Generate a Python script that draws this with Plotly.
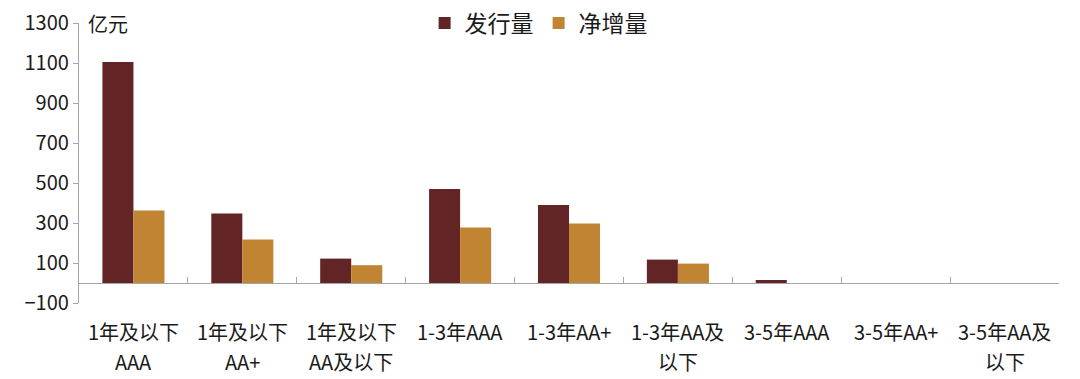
import plotly.graph_objects as go

label_line1 = ["1年及以下", "1年及以下", "1年及以下", "1-3年AAA", "1-3年AA+",
               "1-3年AA及", "3-5年AAA", "3-5年AA+", "3-5年AA及"]
label_line2 = ["AAA", "AA+", "AA及以下", "", "", "以下", "", "", "以下"]
categories = [a + b for a, b in zip(label_line1, label_line2)]
issuance = [1105, 347, 122, 470, 390, 117, 15, 0, 0]
net_increase = [362, 217, 89, 277, 298, 97, 0, 0, 0]
y_ticks = [-100, 100, 300, 500, 700, 900, 1100, 1300]
y_min, y_max = -100, 1300

FONT = "Noto Sans CJK SC"
TXT = "#1a1a1a"
fig = go.Figure()
fig.add_trace(go.Bar(name="发行量", x=categories, y=issuance, marker_color="#632425",
                     marker_line_width=0))
fig.add_trace(go.Bar(name="净增量", x=categories, y=net_increase, marker_color="#C18432",
                     marker_line_width=0))

annotations = [dict(text="亿元", xref="paper", yref="paper", x=0.007, y=1.0,
                    xanchor="left", yanchor="middle", showarrow=False,
                    font=dict(size=20, family=FONT, color=TXT))]
for cat, l1, l2 in zip(categories, label_line1, label_line2):
    annotations.append(dict(text=l1, x=cat, xref="x", yref="paper", y=0, yshift=-28,
                            xanchor="center", yanchor="middle", showarrow=False,
                            font=dict(size=20, family=FONT, color=TXT)))
    if l2:
        annotations.append(dict(text=l2, x=cat, xref="x", yref="paper", y=0, yshift=-58,
                                xanchor="center", yanchor="middle", showarrow=False,
                                font=dict(size=20, family=FONT, color=TXT)))

fig.update_layout(
    width=1080, height=379,
    margin=dict(l=79, r=21, t=23, b=76, autoexpand=False),
    paper_bgcolor="white", plot_bgcolor="white",
    barmode="group", bargap=0.43, bargroupgap=0,
    font=dict(family=FONT, color=TXT),
    showlegend=True,
    legend=dict(orientation="h", x=0.469, xanchor="center", y=1.0, yanchor="middle",
                font=dict(size=23, family=FONT), bgcolor="rgba(0,0,0,0)",
                itemwidth=30, tracegroupgap=0),
    xaxis=dict(anchor="free", position=(0 - y_min) / (y_max - y_min),
               showline=True, linecolor="#a6a6a6", linewidth=1.3,
               ticks="inside", tickson="boundaries", ticklen=6, tickcolor="#a6a6a6",
               showticklabels=False, showgrid=False, zeroline=False),
    yaxis=dict(range=[y_min, y_max], tickvals=y_ticks, showline=True,
               linecolor="#a6a6a6", linewidth=1.3, ticks="outside", ticklen=5,
               tickcolor="#a6a6a6", showgrid=False, zeroline=False,
               ticksuffix=" ", ticklabeloverflow="allow",
               tickfont=dict(size=20, family=FONT, color=TXT)),
    annotations=annotations,
)

fig.write_html("out.html", config={"displayModeBar": False},
               post_script="document.body.style.margin='0';")
